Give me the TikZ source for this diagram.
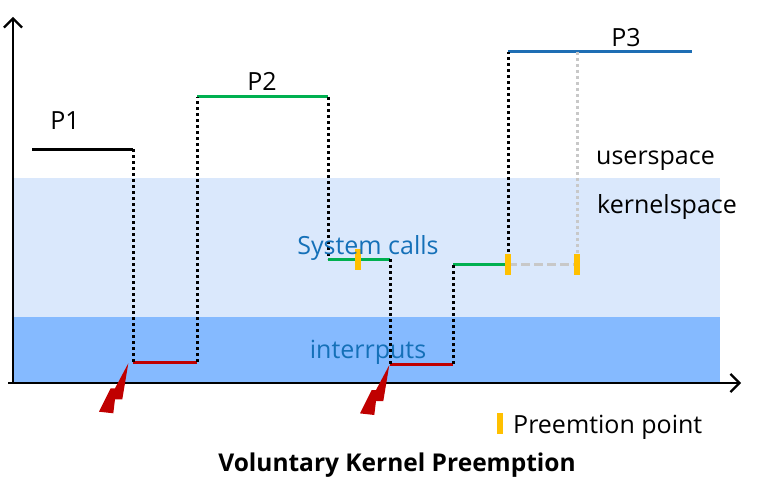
\documentclass[tikz,border=0pt]{standalone}
\usepackage{fontspec}
\setmainfont{Open Sans}
\usetikzlibrary{arrows.meta}
\definecolor{bandeclaire}{RGB}{218,232,252}
\definecolor{bandefoncee}{RGB}{133,186,255}
\definecolor{rouge}{RGB}{192,0,0}
\definecolor{vert}{RGB}{0,176,80}
\definecolor{bleu}{RGB}{30,110,180}
\definecolor{bleutexte}{RGB}{20,112,184}
\definecolor{jaune}{RGB}{255,192,0}
\definecolor{gris}{RGB}{200,200,200}
\tikzset{
  trace/.style={line width=3pt},
  saut/.style={line width=3pt,dash pattern=on 3pt off 3pt},
  axe/.style={line width=2.2pt,-{Straight Barb[length=9pt,width=18pt,line width=2.2pt]}},
  repere/.style={fill=jaune,draw=none,minimum width=6pt,minimum height=21pt,inner sep=0pt},
  texte/.style={font=\fontsize{25}{30}\selectfont,inner sep=0pt}
}
\newcommand\eclair[1]{\fill[rouge,shift={#1}] (0,0) -- (-13.3,25) -- (-17.6,25)
  -- (-29.3,48.4) -- (-15,50) -- (-13.3,36) -- (-6,36) -- cycle;}
\begin{document}
\begin{tikzpicture}[x=1pt,y=-1pt]
\useasboundingbox (0,0) rectangle (759,492);
% Les deux bandes : espace noyau et interruptions.
\fill[bandeclaire] (14,178) rectangle (720,317);
\fill[bandefoncee] (14,317) rectangle (720,383);
% Les axes.
\coordinate (O) at (13,383);
\coordinate (Yhaut) at (13,17);
\coordinate (Xfin) at (741,383);
\coordinate (Xdeb) at (8,383);
\draw[axe] (O) -- (Yhaut);
\draw[axe] (Xdeb) -- (Xfin);
% Les points de la trace.
\coordinate (a0) at (32,149);  \coordinate (a1) at (133,149);
\coordinate (a2) at (133,362); \coordinate (a3) at (197,362);
\coordinate (a4) at (197,97);  \coordinate (a5) at (328,97);
\coordinate (a6) at (328,259); \coordinate (a7) at (390,259);
\coordinate (a8) at (390,364); \coordinate (a9) at (453,364);
\coordinate (a10) at (453,264); \coordinate (a11) at (508,264);
\coordinate (a12) at (508,52); \coordinate (a13) at (692,52);
\coordinate (g1) at (577,52);  \coordinate (g2) at (577,264);
% Les paliers.
\draw[trace] (a0) -- (a1);
\draw[trace,rouge] (a2) -- (a3);
\draw[trace,vert] (a4) -- (a5);
\draw[trace,vert] (a6) -- (a7);
\draw[trace,rouge] (a8) -- (a9);
\draw[trace,vert] (a10) -- (a11);
\draw[trace,bleu] (a12) -- (a13);
\draw[trace,gris,dash pattern=on 9pt off 4pt] (a11) -- (g2);
% Les changements de contexte.
\draw[saut] (a1) -- (a2);
\draw[saut] (a3) -- (a4);
\draw[saut] (a5) -- (a6);
\draw[saut] (a7) -- (a8);
\draw[saut] (a9) -- (a10);
\draw[saut] (a11) -- (a12);
\draw[saut,gris] (g1) -- (g2);
% Les points de preemption.
\node[repere] (pp1) at (358,259) {};
\node[repere] (pp2) at (508,264) {};
\node[repere] (pp3) at (577,264) {};
\node[repere] (pp4) at (500,423) {};
% Les interruptions.
\eclair{(128.3,363.3)}
\eclair{(389.3,365)}
% Les textes.
\node[texte] (p1) at (65,121) {P1};
\node[texte] (p2) at (262,81) {P2};
\node[texte] (p3) at (626,38) {P3};
\node[texte,text=bleutexte] (sc) at (368,248) {System calls};
\node[texte,text=bleutexte] (irq) at (368,352) {interrputs};
\node[texte,anchor=west] (us) at (596,161) {userspace};
\node[texte,anchor=west] (ks) at (597,207) {kernelspace};
\node[texte,anchor=west] (leg) at (513,427) {Preemtion point};
\node[texte,font=\fontsize{24.5}{30}\selectfont\bfseries] (titre) at (397,465) {Voluntary Kernel Preemption};
\end{tikzpicture}
\end{document}
